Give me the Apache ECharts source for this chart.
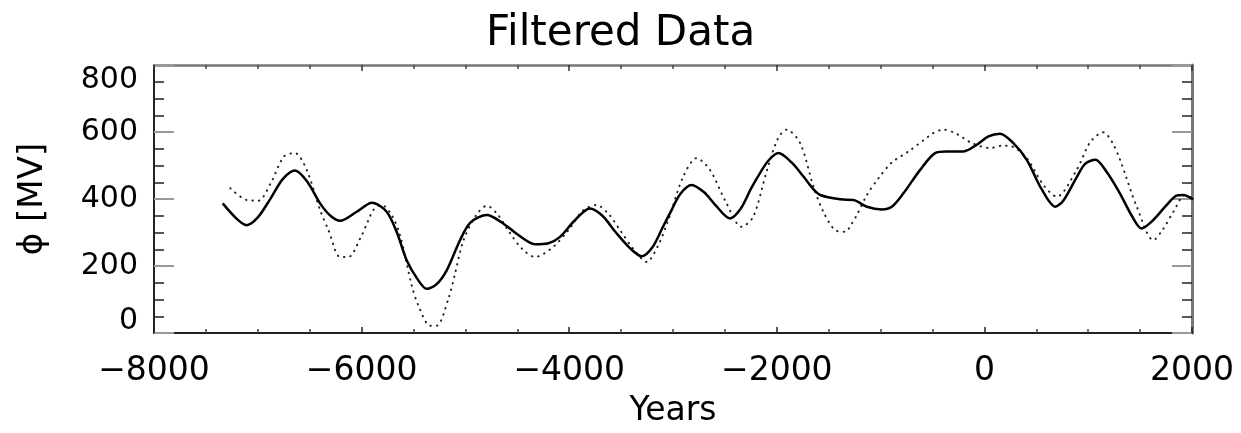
<!DOCTYPE html>
<html>
<head>
<meta charset="utf-8">
<script src="https://cdn.jsdelivr.net/npm/echarts@6/dist/echarts.min.js"></script>
<style>html,body{margin:0;padding:0;background:#fff}#c{width:1241px;height:433px}</style>
</head>
<body>
<div id="c"></div>
<script>
var titleText = 'Filtered Data';
var xAxisName = 'Years';
var yAxisName = 'ϕ [MV]';

var solidYears = [-7338,-7200,-7107,-7000,-6876,-6758,-6641,-6520,-6400,-6300,-6207,-6047,-5900,-5759,-5660,-5566,-5460,-5373,-5280,-5180,-5052,-4950,-4793,-4650,-4500,-4330,-4200,-4088,-3950,-3800,-3680,-3550,-3420,-3302,-3200,-3100,-3030,-2930,-2821,-2700,-2600,-2451,-2350,-2250,-2162,-2080,-1985,-1860,-1743,-1650,-1582,-1390,-1261,-1132,-988,-892,-780,-619,-475,-362,-202,-73,39,150,279,408,550,683,760,880,970,1069,1180,1300,1420,1514,1620,1750,1850,1916,2010];
var solidValues = [387,340,322,345,402,460,485,450,387,350,335,362,389,362,300,217,160,132,145,187,277,330,352,330,295,265,268,287,335,372,350,300,255,229,255,315,357,415,442,420,385,342,370,430,477,515,537,510,467,430,412,399,397,377,369,377,417,487,537,542,542,562,587,595,567,517,430,377,395,460,505,517,480,420,350,312,335,380,410,412,399];

var dottedYears = [-7265,-7107,-6994,-6876,-6748,-6641,-6529,-6400,-6319,-6207,-6126,-6014,-5934,-5887,-5806,-5710,-5630,-5517,-5453,-5340,-5276,-5164,-5100,-5018,-4900,-4793,-4680,-4568,-4450,-4330,-4154,-4000,-3870,-3736,-3620,-3510,-3380,-3254,-3142,-3046,-2901,-2773,-2644,-2500,-2339,-2227,-2098,-1990,-1906,-1775,-1647,-1552,-1438,-1342,-1277,-1229,-1132,-1020,-892,-731,-571,-491,-394,-298,-202,-121,55,167,264,408,568,697,889,1020,1146,1230,1307,1468,1628,1721,1821,1933,2010];
var dottedValues = [432,397,395,447,527,537,487,367,307,227,227,282,337,367,382,352,292,142,82,22,22,102,177,277,350,380,350,297,250,227,257,310,365,382,355,307,250,212,262,337,467,522,487,397,317,347,482,580,607,567,437,362,307,302,327,352,412,462,509,542,579,597,607,599,582,567,552,559,557,522,442,407,487,570,599,570,517,377,277,310,362,412,399];

var xTicks = [-8000, -6000, -4000, -2000, 0, 2000];
var yTicks = [0, 200, 400, 600, 800];

function pairs(xs, ys) { return xs.map(function (x, i) { return [x, ys[i]]; }); }

var FONT = 'DejaVu Sans';
var chart = echarts.init(document.getElementById('c'), null, {renderer: 'canvas'});
var xMin = xTicks[0], xMax = xTicks[xTicks.length - 1];
var yMin = yTicks[0], yMax = yTicks[yTicks.length - 1];

chart.setOption({
  animation: false,
  backgroundColor: '#fff',
  title: {
    text: titleText, left: 'center', top: 6,
    textStyle: {fontFamily: FONT, fontSize: 42, fontWeight: 'normal', color: '#000', lineHeight: 46}
  },
  grid: {left: 154, right: 49, top: 65, bottom: 100, containLabel: false, outerBoundsMode: 'none'},
  xAxis: [{
    type: 'value', position: 'bottom', min: xMin, max: xMax, interval: 2000,
    name: xAxisName, nameLocation: 'middle', nameGap: 62,
    nameTextStyle: {fontFamily: FONT, fontSize: 33, color: '#000'},
    axisLine: {show: true, onZero: false, lineStyle: {color: '#222', width: 2}},
    axisTick: {show: true, inside: true, length: 6, lineStyle: {color: '#222', width: 1.5}},
    minorTick: {show: true, splitNumber: 4, length: 4, lineStyle: {color: '#444', width: 1.5}},
    axisLabel: {fontFamily: FONT, fontSize: 33, color: '#000', margin: 22,
      formatter: function (v) { return v < 0 ? '\u2212' + Math.abs(v) : String(v); }},
    splitLine: {show: false}
  }, {
    type: 'value', position: 'top', min: xMin, max: xMax, interval: 2000,
    axisLine: {show: true, onZero: false, lineStyle: {color: '#777', width: 2.5}},
    axisTick: {show: true, inside: true, length: 6, lineStyle: {color: '#333', width: 1.5}},
    minorTick: {show: true, splitNumber: 4, length: 4, lineStyle: {color: '#444', width: 1.5}},
    axisLabel: {show: false}, splitLine: {show: false}
  }],
  yAxis: [{
    type: 'value', position: 'left', min: yMin, max: yMax, interval: 200,
    name: yAxisName, nameLocation: 'middle', nameRotate: 90, nameGap: 104,
    nameTextStyle: {fontFamily: FONT, fontSize: 34, color: '#000'},
    axisLine: {show: true, onZero: false, lineStyle: {color: '#222', width: 2}},
    axisTick: {show: true, inside: true, length: 20, lineStyle: {color: '#999', width: 2}},
    minorTick: {show: true, splitNumber: 4, length: 10, lineStyle: {color: '#222', width: 1.5}},
    axisLabel: {fontFamily: FONT, fontSize: 30, color: '#000', margin: 16,
      formatter: function (v) {
        if (v === yMax) return '{a|' + v + '}';
        if (v === yMin) return '{b|' + v + '}';
        return '{n|' + v + '}';
      },
      rich: {
        a: {fontFamily: FONT, fontSize: 30, color: '#000', padding: [30, 0, 0, 0]},
        b: {fontFamily: FONT, fontSize: 30, color: '#000', padding: [0, 0, 24, 0]},
        n: {fontFamily: FONT, fontSize: 30, color: '#000'}
      }
    },
    splitLine: {show: false}
  }, {
    type: 'value', position: 'right', min: yMin, max: yMax, interval: 200,
    axisLine: {show: true, onZero: false, lineStyle: {color: '#777', width: 3}},
    axisTick: {show: true, inside: true, length: 20, lineStyle: {color: '#999', width: 2}},
    minorTick: {show: true, splitNumber: 4, length: 10, lineStyle: {color: '#222', width: 1.5}},
    axisLabel: {show: false}, splitLine: {show: false}
  }],
  series: [{
    type: 'line', name: 'filtered', xAxisIndex: 0, yAxisIndex: 0,
    data: pairs(dottedYears, dottedValues), smooth: 0.3, symbol: 'none',
    lineStyle: {color: '#222', width: 2, type: [0.5, 6], cap: 'round'}
  }, {
    type: 'line', name: 'model', xAxisIndex: 0, yAxisIndex: 0,
    data: pairs(solidYears, solidValues), smooth: 0.3, symbol: 'none',
    lineStyle: {color: '#000', width: 2.5}
  }]
});
</script>
</body>
</html>
